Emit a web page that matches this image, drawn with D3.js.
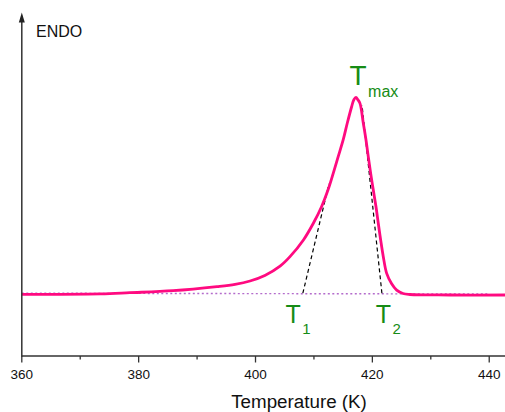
<!DOCTYPE html>
<html>
<head>
<meta charset="utf-8">
<script src="https://cdn.jsdelivr.net/npm/d3@7"></script>
<style>
  html, body { margin: 0; padding: 0; background: #fff; }
  svg { display: block; font-family: "Liberation Sans", Arial, sans-serif; }
</style>
</head>
<body>
<svg id="chart" width="505" height="412"></svg>
<script>
// DSC trace: temperature (K) and normalised heat flow (endo up)
const temperature = [360, 373.4, 378.5, 385.9, 393.4, 396.5, 399.06, 401.6, 404.2, 405.9,
                     408.2, 409.9, 411.3, 412.4, 413.3, 414.15, 415.0, 415.7, 416.45, 416.83,
                     417.19, 417.51, 417.88, 418.45, 418.91, 419.3, 419.71, 420.16, 420.62, 421.01,
                     421.42, 421.87, 422.45, 423.3, 424.16, 425.24, 426.44, 433.3, 442.7];
const heatFlow    = [-0.002, 0.0005, 0.0066, 0.0168, 0.0377, 0.0494, 0.0662, 0.0941, 0.1415, 0.19,
                     0.275, 0.36, 0.444, 0.529, 0.614, 0.699, 0.784, 0.869, 0.953, 0.989,
                     1.0, 0.989, 0.97, 0.869, 0.784, 0.699, 0.614, 0.529, 0.444, 0.36,
                     0.275, 0.19, 0.105, 0.052, 0.02, 0.0025, -0.0025, -0.005, -0.005];

// Extrapolated baseline and onset / endset tangents
const baselineT = [360, 440];
const baselineS = [0.004, 0.0];
const onsetT    = [408.1, 412.57];
const onsetS    = [0.004, 0.56];
const endsetT   = [421.63, 418.23];
const endsetS   = [0.004, 0.962];

const xTicks = [360, 380, 400, 420, 440];
const xMinorTicks = [370, 390, 410, 430];

const svg = d3.select("#chart");
const x0 = 21.8, x1 = 505, yBottom = 356;

const x = d3.scaleLinear().domain([360, 442.7]).range([x0, x1]);
const y = d3.scaleLinear().domain([0, 1]).range([294, 97.5]);

const line = d3.line().x(d => x(d[0])).y(d => y(d[1]));
const zip = (a, b) => a.map((v, i) => [v, b[i]]);

// baseline (dotted)
svg.append("path")
  .attr("d", line(zip(baselineT, baselineS)))
  .attr("fill", "none")
  .attr("stroke", "#b46ccc")
  .attr("stroke-width", 1.4)
  .attr("stroke-dasharray", "2,2.5");

// tangents (dashed)
[[onsetT, onsetS], [endsetT, endsetS]].forEach(([t, s]) => {
  svg.append("path")
    .attr("d", line(zip(t, s)))
    .attr("fill", "none")
    .attr("stroke", "#000")
    .attr("stroke-width", 1.2)
    .attr("stroke-dasharray", "4,3");
});

// DSC curve
const curveLine = d3.line()
  .x(d => x(d[0])).y(d => y(d[1]))
  .curve(d3.curveCatmullRom.alpha(0.5));
svg.append("path")
  .attr("d", curveLine(zip(temperature, heatFlow)))
  .attr("fill", "none")
  .attr("stroke", "#ff0a80")
  .attr("stroke-width", 2.8)
  .attr("stroke-linejoin", "round");

// x axis
const xAxis = svg.append("g").attr("transform", `translate(0,${yBottom})`);
xAxis.append("line")
  .attr("x1", x0).attr("x2", x1).attr("y1", 0).attr("y2", 0)
  .attr("stroke", "#333").attr("stroke-width", 1.6);
xAxis.selectAll(".major").data(xTicks).join("line")
  .attr("x1", d => x(d)).attr("x2", d => x(d)).attr("y1", 0).attr("y2", 6.5)
  .attr("stroke", "#333").attr("stroke-width", 1.3);
xAxis.selectAll(".minor").data(xMinorTicks).join("line")
  .attr("x1", d => x(d)).attr("x2", d => x(d)).attr("y1", 0).attr("y2", 3.5)
  .attr("stroke", "#333").attr("stroke-width", 1.3);
xAxis.selectAll("text").data(xTicks).join("text")
  .attr("x", d => x(d)).attr("y", 23)
  .attr("text-anchor", "middle")
  .attr("font-size", "13.5px")
  .attr("fill", "#111")
  .text(d => d);

svg.append("text")
  .attr("x", 299).attr("y", 408.3)
  .attr("text-anchor", "middle")
  .attr("font-size", "18.8px")
  .attr("fill", "#111")
  .text("Temperature (K)");

// y axis with arrow
svg.append("line")
  .attr("x1", x0).attr("x2", x0).attr("y1", yBottom + 0.8).attr("y2", 20)
  .attr("stroke", "#333").attr("stroke-width", 1.5);
svg.append("path")
  .attr("d", `M${x0},12.5 L${x0 - 3},22.5 L${x0 + 3},22.5 Z`)
  .attr("fill", "#222");
svg.append("text")
  .attr("x", 36).attr("y", 36.7)
  .attr("font-size", "16px")
  .attr("fill", "#111")
  .text("ENDO");

// annotations
const green = "#168c16";
function label(xp, yp, main, sub, mainSize, subSize, subDy) {
  const t = svg.append("text")
    .attr("x", xp).attr("y", yp)
    .attr("fill", green)
    .attr("font-size", mainSize + "px")
    .text(main);
  t.append("tspan")
    .attr("dx", 1.5).attr("dy", subDy)
    .attr("font-size", subSize + "px")
    .text(sub);
}
label(349.5, 85, "T", "max", 28, 16, 11.7);
label(285.5, 322.5, "T", "1", 25, 15, 11.2);
label(375.8, 322.5, "T", "2", 25, 15, 11.2);
</script>
</body>
</html>
